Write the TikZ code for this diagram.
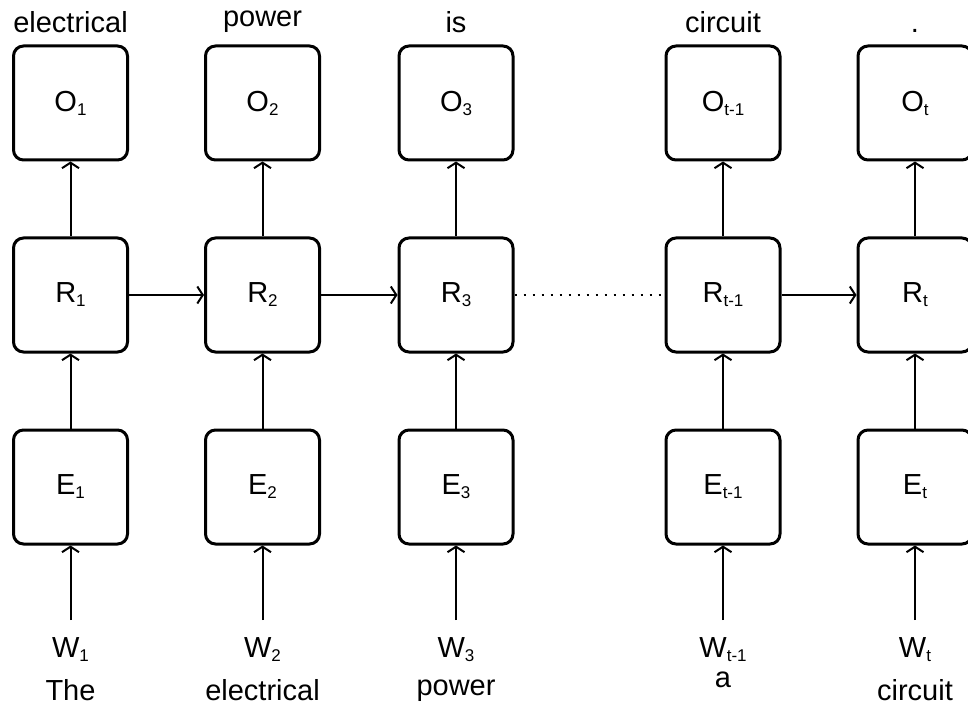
\documentclass[tikz,border=0pt]{standalone}
\usepackage{fontspec}
\setmainfont{Liberation Sans}
\usetikzlibrary{arrows.meta}
\newcommand\sbs[1]{\raisebox{-4pt}{\fontsize{17}{17}\selectfont #1}}
\begin{document}
\begin{tikzpicture}[x=1pt,y=-1pt,
  box/.style={draw, line width=3pt, rounded corners=10pt, minimum width=114pt, minimum height=114pt, inner sep=0pt, font=\fontsize{29}{34}\selectfont},
  arr/.style={line width=2pt, -{Straight Barb[length=5.5pt,width=17pt]}},
  dots/.style={line width=2pt, dash pattern=on 2pt off 7pt},
  lbl/.style={anchor=base, inner sep=0pt, font=\fontsize{29}{34}\selectfont}]
\useasboundingbox (0,0) rectangle (968,708);
% columns
\foreach \n/\x/\s in {1/70.5/1, 2/262.5/2, 3/456/3, 4/723/t-1, 5/915/t}{
  \node[box] (O\n) at (\x,103) {O\sbs{\s}};
  \node[box] (R\n) at (\x,295) {R\sbs{\s}};
  \node[box] (E\n) at (\x,487) {E\sbs{\s}};
  \node[lbl] (W\n) at (\x,657) {W\sbs{\s}};
  \coordinate (ws\n) at (\x,620);
  \draw[arr] (ws\n) -- (E\n.south);
  \draw[arr] (E\n.north) -- (R\n.south);
  \draw[arr] (R\n.north) -- (O\n.south);
}
% top words
\node[lbl] (t1) at (70.5,33) {electrical};
\node[lbl] (t2) at (262.5,27) {power};
\node[lbl] (t3) at (456,33) {is};
\node[lbl] (t4) at (723,33) {circuit};
\node[lbl] (t5) at (915,33) {.};
% bottom words
\node[lbl] (b1) at (70.5,700) {The};
\node[lbl] (b2) at (262.5,700) {electrical};
\node[lbl] (b3) at (456,695) {power};
\node[lbl] (b4) at (723,687) {a};
\node[lbl] (b5) at (915,700) {circuit};
% recurrent links
\draw[arr] (R1.east) -- (R2.west);
\draw[arr] (R2.east) -- (R3.west);
\draw[dots] (R3.east) -- (R4.west);
\draw[arr] (R4.east) -- (R5.west);
\end{tikzpicture}
\end{document}
